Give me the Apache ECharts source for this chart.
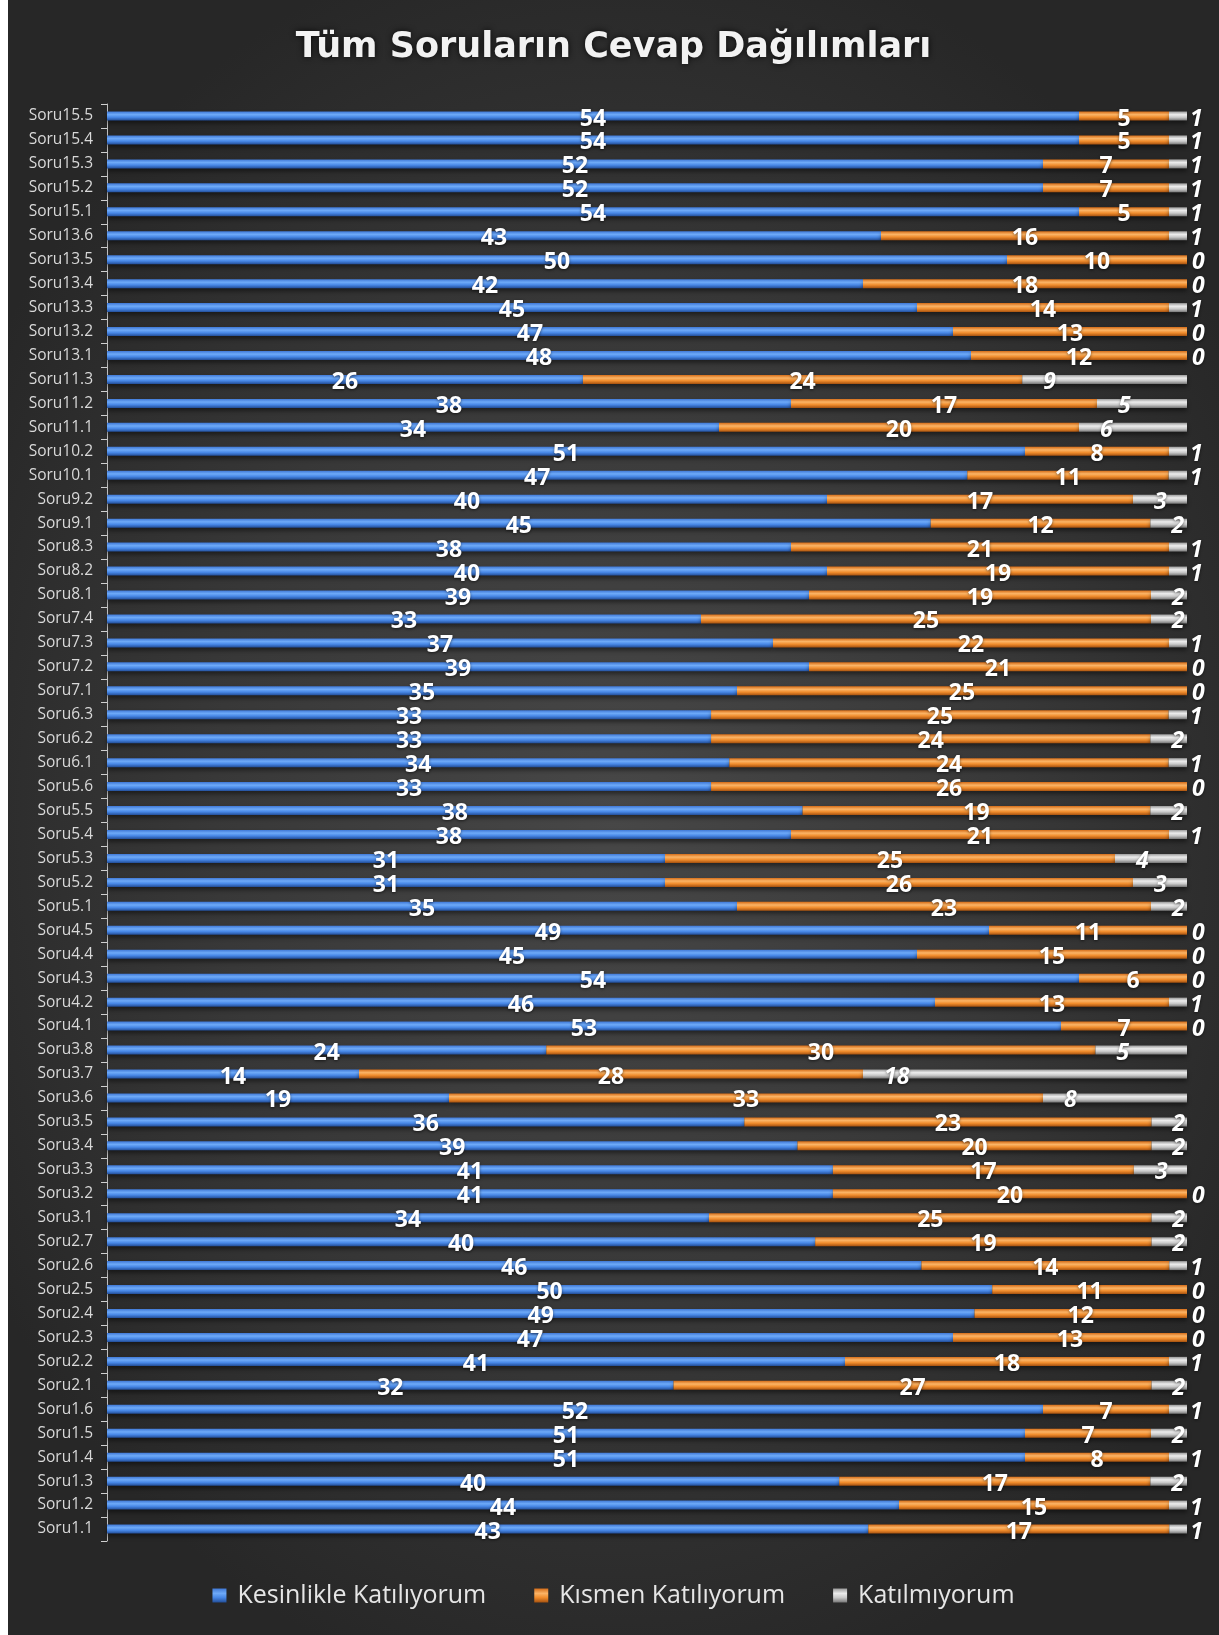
<!DOCTYPE html>
<html>
<head>
<meta charset="utf-8">
<script src="https://cdn.jsdelivr.net/npm/echarts@6/dist/echarts.min.js"></script>
<style>
html,body{margin:0;padding:0;background:#ffffff;}
#wrap{position:absolute;left:8px;top:0;width:1211px;height:1635px;
background:radial-gradient(ellipse 60% 55% at 50% 50%, #474747 0%, #383838 55%, #272727 100%);}
#chart{width:1211px;height:1635px;}
</style>
</head>
<body>
<div id="wrap"><div id="chart"></div></div>
<script>
// Categories listed bottom-to-top (Soru1.1 at the bottom of the chart)
const categories = ['Soru1.1','Soru1.2','Soru1.3','Soru1.4','Soru1.5','Soru1.6',
 'Soru2.1','Soru2.2','Soru2.3','Soru2.4','Soru2.5','Soru2.6','Soru2.7',
 'Soru3.1','Soru3.2','Soru3.3','Soru3.4','Soru3.5','Soru3.6','Soru3.7','Soru3.8',
 'Soru4.1','Soru4.2','Soru4.3','Soru4.4','Soru4.5',
 'Soru5.1','Soru5.2','Soru5.3','Soru5.4','Soru5.5','Soru5.6',
 'Soru6.1','Soru6.2','Soru6.3',
 'Soru7.1','Soru7.2','Soru7.3','Soru7.4',
 'Soru8.1','Soru8.2','Soru8.3',
 'Soru9.1','Soru9.2',
 'Soru10.1','Soru10.2',
 'Soru11.1','Soru11.2','Soru11.3',
 'Soru13.1','Soru13.2','Soru13.3','Soru13.4','Soru13.5','Soru13.6',
 'Soru15.1','Soru15.2','Soru15.3','Soru15.4','Soru15.5'];

const kesinlikle = [43,44,40,51,51,52, 32,41,47,49,50,46,40, 34,41,41,39,36,19,14,24,
 53,46,54,45,49, 35,31,31,38,38,33, 34,33,33, 35,39,37,33, 39,40,38, 45,40, 47,51,
 34,38,26, 48,47,45,42,50,43, 54,52,52,54,54];

const kismen = [17,15,17,8,7,7, 27,18,13,12,11,14,19, 25,20,17,20,23,33,28,30,
 7,13,6,15,11, 23,26,25,21,19,26, 24,24,25, 25,21,22,25, 19,19,21, 12,17, 11,8,
 20,17,24, 12,13,14,18,10,16, 5,7,7,5,5];

const katilmiyor = [1,1,2,1,2,1, 2,1,0,0,0,1,2, 2,0,3,2,2,8,18,5,
 0,1,0,0,0, 2,3,4,1,2,0, 1,2,1, 0,0,1,2, 2,1,1, 2,3, 1,1,
 6,5,9, 0,0,1,0,0,1, 1,1,1,1,1];

const seriesNames = ['Kesinlikle Katılıyorum','Kısmen Katılıyorum','Katılmıyorum'];
const titleText = 'Tüm Soruların Cevap Dağılımları';

const raw = [kesinlikle, kismen, katilmiyor];
const totals = categories.map((c,i)=>raw[0][i]+raw[1][i]+raw[2][i]);

function grad(c0,c1,c2,c3){
  return {type:'linear',x:0,y:0,x2:0,y2:1,colorStops:[
    {offset:0,color:c0},{offset:0.35,color:c1},{offset:0.65,color:c2},{offset:1,color:c3}]};
}
const colors = [
  grad('#3f78d6','#6eaaf8','#4787e6','#234e98'),
  grad('#d46c18','#fbb466','#f08c2c','#a65210'),
  grad('#9a9a9a','#ececec','#c9c9c9','#777777')
];

const labelFont = '"Open Sans", "Noto Sans", sans-serif';

function makeSeries(k){
  const data = raw[k].map((v,i)=>{
    const item = {value: v/totals[i]*100, raw: v};
    if(k===2){
      item.label = {offset: v===0 ? [0,3] : [16,3]};
    }
    return item;
  });
  const lbl = {
    show:true,
    color:'#ffffff',
    fontSize:23,
    fontWeight:'bold',
    fontFamily:labelFont,
    textShadowColor:'rgba(0,0,0,0.55)',
    textShadowBlur:3,
    textShadowOffsetY:1,
    formatter:p=>String(p.data.raw)
  };
  if(k===2){
    lbl.position='insideLeft';
    lbl.distance=5;
    lbl.fontStyle='italic';
  } else {
    lbl.position='inside';
    lbl.offset=[0,3];
  }
  return {
    name: seriesNames[k],
    type:'bar',
    stack:'total',
    barWidth:9,
    data,
    itemStyle:{color:colors[k],shadowColor:'rgba(0,0,0,0.45)',shadowBlur:4,shadowOffsetY:3},
    label:lbl,
    emphasis:{disabled:true}
  };
}

const chart = echarts.init(document.getElementById('chart'), null, {renderer:'canvas'});
chart.setOption({
  animation:false,
  title:{
    text:titleText,
    left:'center',
    top:25,
    textStyle:{color:'#f2f2f2',fontSize:35,fontWeight:'bold',fontFamily:'"DejaVu Sans", sans-serif',
      textShadowColor:'rgba(0,0,0,0.8)',textShadowBlur:6}
  },
  legend:{
    bottom:22,
    left:'center',
    itemWidth:14,
    itemHeight:14,
    itemGap:48,
    icon:'rect',
    textStyle:{color:'#e6e6e6',fontSize:25,fontFamily:labelFont,padding:[0,0,0,6]},
    data:seriesNames
  },
  grid:{left:99,right:32,top:104,bottom:94,containLabel:false},
  xAxis:{type:'value',min:0,max:100,show:false},
  yAxis:{
    type:'category',
    data:categories,
    axisLine:{show:true,lineStyle:{color:'#bfbfbf',width:1}},
    axisTick:{show:true,length:6,lineStyle:{color:'#d0d0d0'}},
    axisLabel:{color:'#d9d9d9',fontSize:15.5,fontFamily:labelFont,margin:14},
    splitLine:{show:false}
  },
  series:[makeSeries(0),makeSeries(1),makeSeries(2)]
});
</script>
</body>
</html>
